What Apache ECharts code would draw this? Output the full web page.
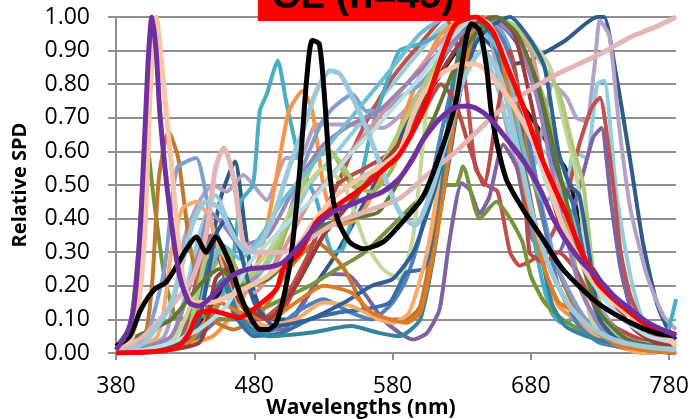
<!DOCTYPE html>
<html>
<head>
<meta charset="utf-8">
<script src="https://cdn.jsdelivr.net/npm/echarts@6/dist/echarts.min.js"></script>
<style>
  html, body { margin: 0; padding: 0; background: #fff; }
  #chart { width: 692px; height: 419px; }
</style>
</head>
<body>
<div id="chart"></div>
<script>
// wavelength (nm) / relative SPD pairs
var wavelengthTicks = [380, 480, 580, 680, 780];

var navyPeak = [[380,0],[420,0.02],[440,0.12],[455,0.45],[466,0.57],[473,0.38],[480,0.18],[490,0.1],[505,0.1],[520,0.18],[540,0.3],[560,0.45],[580,0.6],[600,0.75],[620,0.9],[635,0.97],[650,0.92],[665,0.86],[679,0.87],[705,0.93],[728,1.0],[733,1.0],[742,0.82],[752,0.57],[761,0.33],[771,0.15],[778,0.08],[785,0.04]];
var lavenderPeak = [[380,0],[415,0.05],[430,0.35],[440,0.45],[450,0.5],[460,0.48],[472,0.53],[489,0.455],[503,0.58],[513,0.58],[525,0.68],[549,0.68],[573,0.67],[595,0.75],[615,0.88],[635,1.0],[650,0.95],[660,0.72],[670,0.56],[680,0.55],[688,0.66],[696,0.8],[706,0.76],[713,0.7],[720,0.69],[726,0.85],[730,0.99],[737,0.94],[744,0.67],[752,0.43],[764,0.23],[776,0.11],[785,0.07]];
var lightBluePeak = [[380,0],[420,0.05],[440,0.35],[452,0.47],[465,0.35],[480,0.22],[495,0.3],[520,0.5],[540,0.6],[560,0.7],[580,0.8],[600,0.9],[620,0.98],[640,0.95],[655,0.8],[668,0.62],[680,0.55],[690,0.6],[700,0.52],[706,0.5],[711,0.6],[720,0.58],[728,0.8],[733,0.81],[742,0.47],[752,0.23],[761,0.1],[775,0.05],[785,0.03]];
var brickPeak = [[380,0],[425,0.03],[440,0.25],[448,0.35],[458,0.3],[470,0.15],[485,0.1],[500,0.15],[520,0.3],[540,0.5],[560,0.68],[580,0.82],[600,0.92],[618,1.0],[632,0.82],[640,0.55],[648,0.5],[656,0.48],[665,0.3],[672,0.26],[682,0.28],[695,0.35],[705,0.45],[715,0.62],[724,0.73],[730,0.76],[736,0.62],[741,0.45],[745,0.3],[752,0.17],[762,0.08],[775,0.04],[785,0.03]];
var plumLow = [[380,0],[420,0.02],[440,0.05],[455,0.1],[470,0.1],[490,0.07],[501,0.07],[513,0.13],[525,0.21],[535,0.235],[549,0.23],[561,0.17],[573,0.1],[585,0.06],[595,0.04],[605,0.06],[614,0.13],[621,0.33],[630,0.505],[636,0.485],[643,0.415],[650,0.465],[660,0.62],[670,0.55],[680,0.35],[690,0.3],[700,0.3],[711,0.43],[725,0.64],[731,0.67],[738,0.45],[745,0.25],[755,0.1],[770,0.04],[785,0.02]];
var tealPeak = [[380,0],[420,0.01],[440,0.05],[455,0.15],[464,0.26],[470,0.45],[479,0.5],[484,0.72],[489,0.77],[497,0.87],[503,0.75],[513,0.57],[525,0.455],[537,0.3],[544,0.31],[554,0.455],[564,0.65],[573,0.77],[585,0.9],[600,0.92],[615,0.95],[630,0.99],[645,1.0],[658,0.96],[665,0.9],[672,0.65],[680,0.4],[688,0.22],[695,0.12],[702,0.09],[710,0.1],[718,0.07],[728,0.05],[740,0.03],[760,0.02],[772,0.03],[778,0.05],[785,0.16]];
var orangePeak = [[380,0],[420,0.02],[450,0.05],[470,0.15],[485,0.3],[495,0.5],[505,0.72],[515,0.78],[522,0.72],[530,0.5],[540,0.38],[555,0.4],[575,0.55],[595,0.78],[615,0.95],[635,1.0],[655,0.93],[668,0.75],[680,0.45],[690,0.25],[700,0.14],[712,0.1],[725,0.06],[745,0.03],[785,0.02]];
var oliveSpike = [[380,0.02],[390,0.08],[396,0.3],[402,0.64],[407,0.47],[415,0.23],[425,0.1],[440,0.11],[460,0.1],[480,0.12],[500,0.16],[520,0.2],[540,0.25],[560,0.3],[580,0.38],[600,0.46],[615,0.5],[626,0.5],[631,0.555],[643,0.4],[655,0.45],[665,0.4],[674,0.33],[680,0.23],[690,0.15],[703,0.1],[728,0.04],[752,0.01],[785,0]];
var copperSpike = [[380,0],[400,0.04],[406,0.2],[411,0.52],[418,0.66],[425,0.58],[433,0.33],[440,0.2],[450,0.1],[465,0.07],[485,0.12],[505,0.25],[525,0.33],[545,0.25],[562,0.12],[578,0.1],[590,0.1],[600,0.14],[612,0.4],[625,0.75],[640,0.97],[652,1.0],[665,0.85],[680,0.55],[695,0.3],[710,0.15],[725,0.07],[745,0.03],[785,0.01]];
var periwinkle = [[380,0],[400,0.03],[415,0.25],[424,0.55],[438,0.58],[446,0.45],[455,0.28],[465,0.2],[480,0.22],[500,0.35],[515,0.55],[528,0.68],[537,0.73],[551,0.77],[561,0.72],[573,0.72],[585,0.76],[600,0.8],[620,0.9],[640,1.0],[660,0.95],[675,0.7],[690,0.4],[700,0.25],[720,0.1],[750,0.03],[785,0.01]];
var blueA = [[380,0],[420,0.01],[435,0.1],[445,0.3],[452,0.36],[460,0.25],[470,0.1],[480,0.06],[495,0.07],[510,0.12],[530,0.16],[550,0.12],[565,0.1],[580,0.15],[590,0.22],[600,0.35],[615,0.65],[630,0.9],[645,1.0],[660,0.93],[670,0.8],[680,0.6],[690,0.38],[700,0.2],[715,0.08],[730,0.03],[760,0.01],[785,0]];
var greenB = [[380,0],[430,0.03],[450,0.25],[460,0.3],[475,0.2],[490,0.22],[510,0.45],[525,0.58],[535,0.6],[550,0.5],[565,0.48],[580,0.55],[600,0.75],[620,0.92],[640,1.0],[660,0.98],[675,0.9],[690,0.75],[700,0.55],[710,0.3],[720,0.15],[735,0.07],[760,0.02],[785,0.01]];
var paleGreen = [[380,0],[420,0.03],[445,0.25],[455,0.3],[470,0.22],[490,0.3],[510,0.45],[530,0.55],[545,0.5],[560,0.33],[573,0.25],[585,0.22],[595,0.35],[607,0.8],[620,0.95],[640,1.0],[660,0.98],[680,0.93],[694,0.85],[703,0.7],[712,0.55],[717,0.4],[722,0.12],[730,0.06],[750,0.03],[785,0.02]];
var roseB = [[380,0],[430,0.05],[445,0.3],[452,0.35],[465,0.2],[480,0.18],[500,0.3],[520,0.45],[540,0.55],[560,0.65],[580,0.75],[600,0.85],[620,0.95],[640,1.0],[660,0.98],[680,0.9],[694,0.62],[710,0.35],[725,0.18],[740,0.08],[760,0.03],[785,0.02]];
var blueC = [[380,0],[425,0.02],[440,0.15],[448,0.3],[455,0.28],[465,0.12],[480,0.05],[500,0.06],[520,0.1],[540,0.12],[560,0.13],[578,0.15],[590,0.24],[602,0.25],[610,0.33],[620,0.55],[630,0.8],[640,0.95],[650,1.0],[665,0.95],[680,0.85],[693,0.62],[703,0.5],[710,0.45],[718,0.3],[725,0.15],[735,0.06],[750,0.02],[765,0],[785,0.01]];
var orangeB = [[380,0],[410,0.05],[420,0.3],[428,0.43],[438,0.45],[448,0.4],[458,0.25],[470,0.12],[490,0.08],[510,0.1],[530,0.15],[550,0.14],[570,0.1],[580,0.09],[592,0.12],[605,0.3],[615,0.55],[625,0.8],[635,0.95],[645,1.0],[660,0.9],[670,0.7],[680,0.45],[690,0.25],[700,0.15],[712,0.12],[725,0.06],[745,0.02],[760,0],[785,0.01]];
var tealDark = [[380,0],[440,0.05],[450,0.18],[458,0.22],[470,0.1],[490,0.05],[520,0.06],[550,0.08],[570,0.06],[585,0.05],[600,0.1],[612,0.35],[622,0.75],[632,0.97],[642,1.0],[655,0.9],[670,0.65],[685,0.35],[695,0.15],[705,0.08],[720,0.05],[740,0.03],[760,0.02],[785,0.02]];
var brickB = [[380,0],[430,0.02],[448,0.25],[455,0.3],[465,0.2],[480,0.1],[500,0.12],[520,0.3],[540,0.5],[560,0.55],[580,0.6],[600,0.7],[615,0.8],[625,0.75],[635,0.62],[646,0.5],[655,0.7],[665,0.9],[672,0.75],[679,0.3],[690,0.27],[700,0.3],[712,0.25],[725,0.15],[740,0.08],[760,0.04],[785,0.03]];
var yellowGreen = [[380,0],[430,0.05],[445,0.28],[455,0.3],[470,0.22],[485,0.25],[500,0.35],[515,0.5],[528,0.6],[540,0.58],[555,0.5],[570,0.55],[590,0.7],[610,0.85],[630,0.97],[650,1.0],[670,0.97],[685,0.88],[700,0.78],[710,0.62],[718,0.5],[725,0.25],[735,0.08],[750,0.03],[785,0.02]];
var mauve = [[380,0],[420,0.05],[440,0.3],[448,0.42],[458,0.38],[470,0.32],[490,0.35],[510,0.5],[530,0.62],[550,0.68],[570,0.72],[590,0.8],[610,0.88],[630,0.95],[650,1.0],[670,0.93],[685,0.75],[700,0.45],[715,0.2],[730,0.08],[750,0.03],[785,0.02]];
var aquaB = [[380,0],[430,0.02],[448,0.25],[458,0.32],[470,0.28],[485,0.35],[500,0.45],[520,0.55],[540,0.65],[560,0.75],[580,0.85],[600,0.95],[620,1.0],[640,0.98],[660,0.88],[675,0.6],[690,0.45],[700,0.48],[710,0.4],[722,0.2],[735,0.1],[750,0.04],[785,0.02]];
var blueD = [[380,0],[435,0.05],[452,0.35],[460,0.4],[470,0.3],[480,0.15],[495,0.08],[520,0.1],[545,0.15],[565,0.2],[580,0.22],[595,0.3],[610,0.48],[625,0.72],[640,0.92],[650,0.97],[665,1.0],[680,0.93],[690,0.85],[700,0.6],[708,0.5],[715,0.47],[722,0.3],[730,0.1],[745,0.03],[760,0.01],[785,0]];
var orangeDark = [[380,0],[430,0.02],[445,0.1],[455,0.15],[470,0.12],[490,0.1],[510,0.15],[530,0.2],[550,0.18],[565,0.12],[578,0.1],[590,0.09],[600,0.12],[612,0.35],[625,0.7],[635,0.9],[645,1.0],[655,0.95],[665,0.75],[675,0.5],[690,0.25],[700,0.15],[710,0.13],[725,0.07],[745,0.02],[785,0]];
var brickDark = [[380,0],[440,0.03],[452,0.22],[460,0.25],[470,0.15],[490,0.1],[510,0.2],[530,0.35],[550,0.45],[570,0.55],[590,0.65],[610,0.8],[625,0.9],[640,0.98],[655,1.0],[668,0.95],[680,0.75],[690,0.55],[700,0.4],[712,0.3],[725,0.25],[740,0.15],[755,0.07],[770,0.03],[785,0.02]];
var oliveDark = [[380,0.02],[395,0.05],[420,0.1],[440,0.2],[455,0.25],[470,0.2],[490,0.22],[510,0.3],[530,0.38],[550,0.4],[570,0.42],[590,0.55],[610,0.7],[625,0.85],[640,0.95],[655,1.0],[670,0.95],[685,0.8],[700,0.55],[715,0.3],[730,0.12],[750,0.04],[785,0.01]];
var blackJagged = [[380,0],[430,0.02],[450,0.15],[460,0.2],[475,0.12],[490,0.1],[510,0.2],[530,0.35],[550,0.45],[570,0.55],[590,0.68],[610,0.8],[630,0.92],[645,0.97],[655,0.9],[667,0.78],[682,0.69],[696,0.6],[705,0.55],[713,0.43],[716,0.33],[722,0.2],[730,0.12],[745,0.06],[760,0.03],[785,0.02]];
var lightSmooth = [[380,0],[400,0.01],[420,0.03],[440,0.07],[460,0.14],[477,0.27],[500,0.37],[525,0.47],[549,0.59],[570,0.68],[585,0.75],[600,0.82],[615,0.9],[630,0.97],[640,1.0],[650,0.98],[662,0.88],[675,0.72],[690,0.52],[705,0.36],[720,0.24],[735,0.15],[750,0.09],[765,0.05],[785,0.03]];

// highlighted curves
var roseRising = [[380,0],[400,0.05],[420,0.14],[435,0.22],[445,0.35],[452,0.55],[458,0.61],[465,0.52],[472,0.33],[480,0.3],[500,0.3],[520,0.34],[540,0.39],[560,0.42],[585,0.46],[605,0.53],[626,0.6],[657,0.72],[682,0.79],[699,0.83],[730,0.89],[752,0.94],[770,0.97],[785,1.0]];
var lightBlue535 = [[380,0],[400,0.03],[420,0.15],[435,0.38],[445,0.45],[455,0.43],[465,0.35],[475,0.3],[485,0.33],[495,0.42],[505,0.55],[515,0.66],[525,0.78],[535,0.84],[542,0.83],[550,0.77],[561,0.67],[573,0.54],[585,0.42],[596,0.38],[608,0.48],[620,0.65],[632,0.82],[645,0.9],[658,0.82],[670,0.62],[682,0.4],[695,0.24],[708,0.14],[722,0.08],[740,0.04],[760,0.02],[785,0.01]];
var peachLine = [[380,0.01],[392,0.05],[400,0.3],[405,0.8],[409,1.0],[414,0.82],[421,0.52],[428,0.23],[436,0.15],[448,0.15],[462,0.17],[477,0.2],[490,0.23],[501,0.27],[513,0.33],[525,0.4],[537,0.46],[549,0.5],[561,0.53],[573,0.56],[585,0.6],[594,0.7],[602,0.77],[615,0.83],[631,0.86],[640,0.86],[650,0.83],[662,0.77],[674,0.69],[686,0.59],[695,0.48],[703,0.38],[715,0.28],[728,0.2],[740,0.15],[752,0.11],[765,0.08],[775,0.06],[785,0.02]];
var redLine = [[380,0],[410,0.005],[425,0.02],[433,0.06],[440,0.12],[450,0.125],[460,0.115],[469,0.105],[481,0.135],[496,0.19],[501,0.25],[513,0.3],[525,0.39],[537,0.43],[549,0.465],[561,0.5],[573,0.545],[585,0.59],[602,0.72],[619,0.92],[626,0.98],[640,1.0],[652,0.96],[662,0.86],[674,0.74],[686,0.6],[694,0.52],[705,0.42],[718,0.29],[728,0.21],[740,0.16],[752,0.12],[765,0.08],[781,0.06],[785,0.055]];
var blackLine = [[380,0.02],[390,0.05],[398,0.13],[408,0.19],[416,0.21],[424,0.26],[431,0.31],[438,0.345],[445,0.3],[452,0.345],[462,0.27],[471,0.16],[478,0.1],[484,0.07],[490,0.07],[496,0.09],[502,0.18],[507,0.3],[513,0.55],[518,0.82],[522,0.93],[527,0.92],[531,0.75],[535,0.52],[540,0.4],[549,0.33],[559,0.31],[573,0.33],[585,0.38],[602,0.465],[615,0.6],[626,0.75],[633,0.93],[637,0.98],[643,0.96],[648,0.85],[652,0.7],[662,0.52],[674,0.43],[687,0.35],[703,0.25],[728,0.15],[752,0.09],[770,0.06],[785,0.05]];
var purpleLine = [[380,0.01],[388,0.06],[393,0.14],[398,0.4],[403,0.85],[406,1.0],[409,0.9],[412,0.7],[419,0.42],[426,0.23],[433,0.15],[440,0.14],[452,0.18],[464,0.23],[476,0.25],[490,0.255],[501,0.27],[513,0.32],[525,0.38],[537,0.42],[549,0.44],[561,0.46],[573,0.48],[585,0.52],[595,0.58],[602,0.634],[615,0.7],[625,0.73],[634,0.735],[642,0.725],[650,0.7],[662,0.64],[675,0.57],[687,0.485],[695,0.41],[703,0.35],[715,0.28],[728,0.225],[740,0.17],[752,0.13],[765,0.09],[775,0.07],[785,0.05]];

var fillerData = [blackJagged, navyPeak, lavenderPeak, lightBluePeak, brickPeak, plumLow, tealPeak, orangePeak, oliveSpike, copperSpike,
  periwinkle, blueA, greenB, paleGreen, roseB, blueC, orangeB, tealDark, brickB, yellowGreen,
  mauve, aquaB, blueD, orangeDark, brickDark, oliveDark, lightSmooth];
var fillerColors = ['#1a1a1a', '#2E5A87', '#B3A2C7', '#93CDDD', '#C0504D', '#7F62A0', '#4BACC6', '#F79646', '#77933C', '#C0782E',
  '#7F9FD0', '#4F81BD', '#9BBB59', '#C3D69B', '#D99694', '#3A6CA8', '#F9AB6B', '#31859C', '#B84A47', '#AFC97A',
  '#9983B5', '#6FBDD1', '#2F5F96', '#E07B24', '#9F3B38', '#5F7530', '#B7DDE8'];

var topData = [roseRising, lightBlue535, peachLine, redLine, blackLine, purpleLine];
var topColors = ['#E3B5B4', '#9BC8DA', '#F8C3A9', '#FF0000', '#000000', '#7030A0'];

var chart = echarts.init(document.getElementById('chart'));

var series = [];
fillerData.forEach(function (d, i) {
  series.push({
    type: 'line', data: d, showSymbol: false, smooth: 0.2, silent: true,
    lineStyle: { color: fillerColors[i], width: 4 }
  });
});
topData.forEach(function (d, i) {
  series.push({
    type: 'line', data: d, showSymbol: false, smooth: 0.25, silent: true,
    lineStyle: { color: topColors[i], width: 5 }
  });
});

var option = {
  animation: false,
  backgroundColor: '#fff',
  grid: { left: 116, right: 16, top: 17, bottom: 66 },
  xAxis: {
    type: 'value',
    min: 380,
    max: 785,
    axisLine: { show: true, lineStyle: { color: '#8F8F8F', width: 2 } },
    axisTick: { show: true, length: 7, lineStyle: { color: '#8F8F8F', width: 2 }, customValues: wavelengthTicks },
    axisLabel: { customValues: wavelengthTicks, margin: 22, color: '#000', fontSize: 23, fontFamily: 'Open Sans' },
    splitLine: { show: false }
  },
  yAxis: {
    type: 'value',
    min: 0,
    max: 1,
    interval: 0.1,
    name: 'Relative SPD',
    nameLocation: 'middle',
    nameGap: 86,
    nameTextStyle: { color: '#000', fontSize: 20, fontWeight: 'bold', fontFamily: 'Open Sans' },
    axisLine: { show: true, lineStyle: { color: '#8F8F8F', width: 2 } },
    axisTick: { show: true, length: 8, lineStyle: { color: '#8F8F8F', width: 2 } },
    axisLabel: { margin: 26, color: '#000', fontSize: 23, fontFamily: 'Open Sans',
      formatter: function (v) { return v.toFixed(2); } },
    splitLine: { show: true, lineStyle: { color: '#8F8F8F', width: 2 } }
  },
  graphic: [
    { type: 'rect', left: 258, top: 0, shape: { width: 212, height: 21 }, style: { fill: '#FF0000' }, z: 100 },
    { type: 'text', x: 363, y: 17, z: 101,
      style: { text: 'CL (n=45)', fill: '#000', font: 'bold 40px "Liberation Sans"', textAlign: 'center', textVerticalAlign: 'bottom' } },
    { type: 'text', x: 361, y: 408,
      style: { text: 'Wavelengths (nm)', fill: '#000', font: 'bold 21px "Open Sans"', textAlign: 'center', textVerticalAlign: 'middle' } }
  ],
  series: series
};

chart.setOption(option);
</script>
</body>
</html>
